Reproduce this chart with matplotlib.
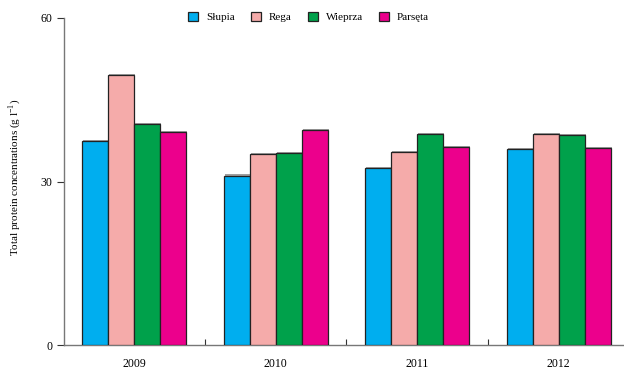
import matplotlib
matplotlib.use("Agg")
import matplotlib.pyplot as plt
import matplotlib.patheffects as pe
import numpy as np

years = ["2009", "2010", "2011", "2012"]
rivers = ["Słupia", "Rega", "Wieprza", "Parsęta"]
slupia = [37.4, 31.1, 32.5, 35.9]
rega = [49.5, 35.0, 35.4, 38.7]
wieprza = [40.5, 35.3, 38.7, 38.5]
parseta = [39.1, 39.4, 36.3, 36.1]
colors = ["#00AEEF", "#F5ABAA", "#00A14B", "#EC008C"]

plt.rcParams["font.family"] = ["Liberation Serif", "DejaVu Serif"]

fig = plt.figure(figsize=(6.24, 3.70), dpi=100)
W, H = 624, 370
left, bottom, top = 63.5, 345, 18
group_px = 141.5
ax = fig.add_axes([left / W, (H - bottom) / H, (W - left) / W, (bottom - top) / H])

x = np.arange(len(years))
bw = 26 / group_px
series = [slupia, rega, wieprza, parseta]
shadow = [pe.SimplePatchShadow(offset=(0.8, 0.8), shadow_rgbFace="#777777", alpha=0.7), pe.Normal()]
for i, (vals, c, name) in enumerate(zip(series, colors, rivers)):
    ax.bar(x + (i - 1.5) * bw, vals, bw, color=c, edgecolor="#222222",
           linewidth=0.9, label=name, path_effects=shadow, zorder=3)

ax.set_xlim(-0.5, -0.5 + (W - left) / group_px)
ax.set_ylim(0, 60)
ax.set_yticks([0, 30, 60])
ax.set_xticks([0.5, 1.5, 2.5])
ax.set_xticklabels([])
ax.set_xticks(x, minor=True)
ax.set_xticklabels(years, minor=True)
ax.tick_params(axis="x", which="minor", length=0, pad=9.5, labelsize=8.5)
ax.tick_params(axis="x", which="major", direction="in", length=4, color="#333333")
ax.tick_params(axis="y", direction="out", length=5, labelsize=8.5, color="#333333", pad=3)
for s in ["top", "right"]:
    ax.spines[s].set_visible(False)
for s in ["left", "bottom"]:
    ax.spines[s].set_color("#777777")
    ax.spines[s].set_linewidth(1.0)

fig.text(15 / W, 1 - 177 / H, "Total protein concentrations (g l$^{\\mathregular{-1}}$)",
         rotation=90, ha="center", va="center", fontsize=8)

leg = fig.legend(loc="center", bbox_to_anchor=(308.5 / W, 1 - 17 / H), ncol=4,
                 frameon=False, fontsize=8, handlelength=0.9, handleheight=0.9,
                 handletextpad=0.72, columnspacing=1.45, borderpad=0)
for h in leg.legend_handles:
    h.set_path_effects([])
    h.set_edgecolor("#222222")

fig.savefig("out.png", dpi=100)
